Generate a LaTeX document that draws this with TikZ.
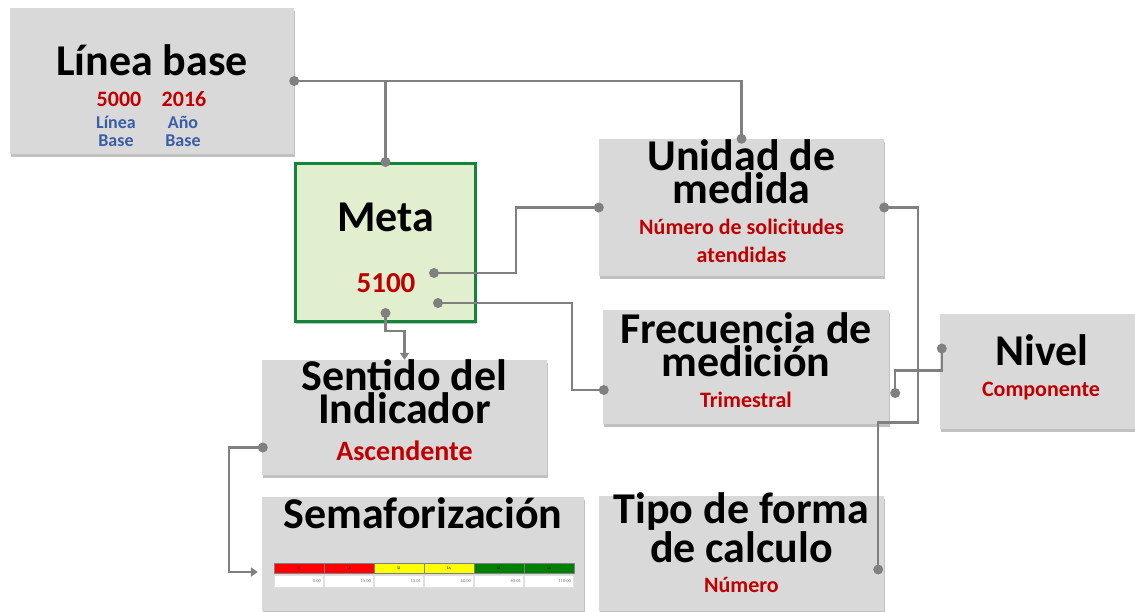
\documentclass[tikz,border=0pt]{standalone}
\usepackage{fontspec}
\setmainfont{Carlito}
\usetikzlibrary{arrows.meta,shadows}
\definecolor{bgrey}{HTML}{D9D9D9}
\definecolor{lgrey}{HTML}{808080}
\definecolor{dred}{HTML}{C00000}
\definecolor{dblue}{HTML}{3A5EA6}
\definecolor{mgreen}{HTML}{E2EFCF}
\definecolor{dgreen}{HTML}{12853A}
\definecolor{tred}{HTML}{FF0000}
\definecolor{tyellow}{HTML}{FFFF00}
\definecolor{tgreen}{HTML}{008000}
\tikzset{
    box/.style={fill=bgrey, inner sep=0pt,
        drop shadow={shadow xshift=0.5pt, shadow yshift=-2.5pt, opacity=0.35, fill=black!70}},
    title/.style={anchor=base, align=center, inner sep=0pt,
        font=\fontsize{44}{33}\selectfont\bfseries},
    value/.style={anchor=base, align=center, inner sep=0pt, text=dred,
        font=\fontsize{22}{28}\selectfont\bfseries},
    conn/.style={draw=lgrey, line width=2.2pt},
    tip/.style={-{Triangle[width=9pt,length=7pt]}},
}
\begin{document}
\begin{tikzpicture}[x=1pt,y=-1pt]
    \useasboundingbox (0,0) rectangle (1135,611);
    % boxes
    \node[box, minimum width=284pt, minimum height=146pt] (lb) at (152,81) {};
    \node[box, fill=mgreen, draw=dgreen, line width=3pt, minimum width=180pt, minimum height=158pt] (meta) at (385.5,242.5) {};
    \node[box, minimum width=285pt, minimum height=137pt] (unidad) at (741.5,207.5) {};
    \node[box, minimum width=286pt, minimum height=114pt] (frec) at (746,367) {};
    \node[box, minimum width=195pt, minimum height=115pt] (nivel) at (1037.5,371.5) {};
    \node[box, minimum width=285pt, minimum height=115pt] (sentido) at (404.5,417.5) {};
    \node[box, minimum width=322pt, minimum height=114pt] (sema) at (423,554) {};
    \node[box, minimum width=285pt, minimum height=115pt] (tipo) at (741.5,553.5) {};

    % texts (multi-line texts sit on their last line)
    \node[title] (lbt) at (152,75) {Línea base};
    \node[value] (lbv) at (119,106) {5000};
    \node[value] (lby) at (184,106) {2016};
    \node[value, text=dblue, font=\fontsize{18}{18}\selectfont\bfseries] (lbvl) at (116,146) {Línea\\Base};
    \node[value, text=dblue, font=\fontsize{18}{18}\selectfont\bfseries] (lbyl) at (183,146) {Año\\Base};
    \node[title] (metat) at (385.5,231) {Meta};
    \node[value, font=\fontsize{29}{29}\selectfont\bfseries] (metav) at (386,292) {5100};
    \node[title] (unidadt) at (741.5,203) {Unidad de\\medida};
    \node[value] (unidadv) at (741.5,262) {Número de solicitudes\\atendidas};
    \node[title] (frect) at (746,376) {Frecuencia de\\medición};
    \node[value] (frecv) at (746,407) {Trimestral};
    \node[title] (nivelt) at (1042,365) {Nivel};
    \node[value] (nivelv) at (1041,396) {Componente};
    \node[title] (sentidot) at (404.5,423) {Sentido del\\Indicador};
    \node[value, font=\fontsize{28}{28}\selectfont\bfseries] (sentidov) at (404.5,460) {Ascendente};
    \node[title] (semat) at (423,528) {Semaforización};
    \node[title] (tipot) at (741.5,562) {Tipo de forma\\de calculo};
    \node[value] (tipov) at (741.5,592) {Número};

    % semaforo table
    \foreach \col/\lab/\val [count=\i] in {tred/Li/0.00, tred/Ls/15.00, tyellow/Li/15.01,
        tyellow/Ls/60.00, tgreen/Li/60.01, tgreen/Ls/110.00} {
        \node[fill=\col, draw=black!50, line width=0.4pt, minimum width=50pt, minimum height=10pt,
            inner sep=0pt, font=\fontsize{4.5}{5}\selectfont] (h\i) at (249+50*\i,568) {\lab};
        \node[fill=white, draw=black!12, line width=0.4pt, minimum width=49pt, minimum height=12pt,
            inner sep=2pt, anchor=center, text=black!55, font=\fontsize{4.5}{5}\selectfont,
            text width=44pt, align=right] (v\i) at (249+50*\i,581) {\val};
    }

    % connector points
    \coordinate (ma) at ([xshift=48.5pt,yshift=-30.5pt]meta.center);
    \coordinate (mb) at ([xshift=52.5pt,yshift=-60.5pt]meta.center);
    \coordinate (mc) at ([yshift=-70.5pt]meta.center);
    \coordinate (fin) at ([xshift=1pt,yshift=-23pt]frec.west);
    \coordinate (fout) at ([xshift=6pt,yshift=-26pt]frec.east);
    \coordinate (sin) at ([xshift=1pt,yshift=-30pt]sentido.west);
    \coordinate (semain) at ([xshift=-4pt,yshift=-18pt]sema.west);
    \coordinate (tin) at ([xshift=-6pt,yshift=-16pt]tipo.east);
    \coordinate (nin) at ([xshift=2pt,yshift=23pt]nivel.west);

    % connectors
    \draw[conn] (lb.east) -| (unidad.north);
    \draw[conn] (lb.east) -| (meta.north);
    \draw[conn] (ma) -- ++(82,0) |- (unidad.west);
    \draw[conn] (mb) -- ++(134,0) |- (fin);
    \draw[conn, tip] (mc) -- ++(0,18) -| (sentido.north);
    \draw[conn, tip] (sin) -- ++(-34,0) |- (semain);
    \draw[conn] (unidad.east) -| ++(34,215) -| (tin);
    \draw[conn] (nin) -- ++(0,22) -| (fout);
    \foreach \p in {lb.east, meta.north, unidad.north, ma, unidad.west, mb, fin, mc, sin,
        unidad.east, tin, nin, fout}
        \fill[lgrey] (\p) circle (5pt);
\end{tikzpicture}
\end{document}
